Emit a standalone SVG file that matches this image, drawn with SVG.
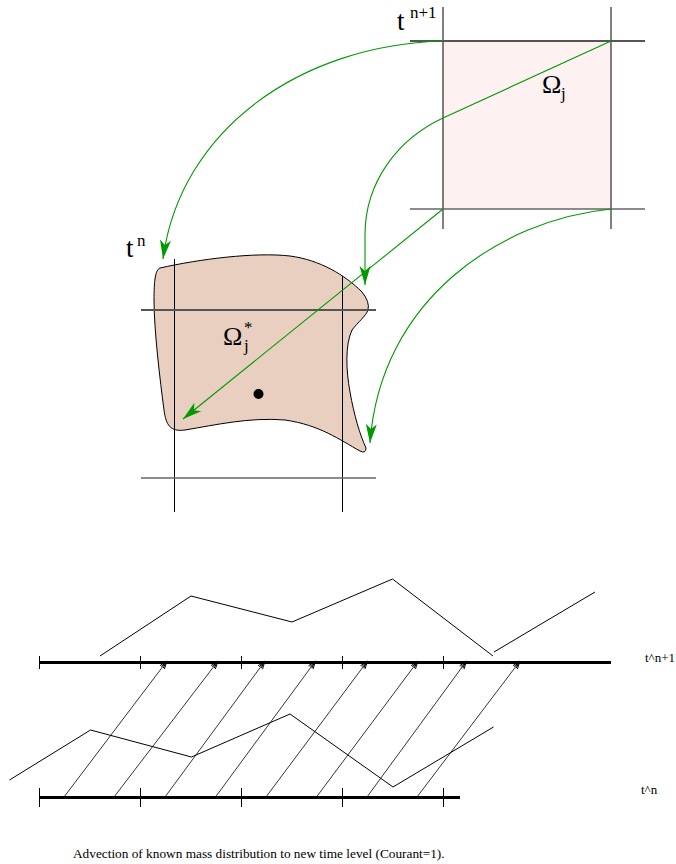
<svg xmlns="http://www.w3.org/2000/svg" width="676" height="864" viewBox="0 0 676 864">
<style>
.serif{font-family:"Liberation Serif","Times New Roman",serif;fill:#000}
.vgrid{stroke:#000;stroke-width:1;fill:none}
.hgrid{stroke:#555;stroke-width:2;fill:none}
.hgrid2{stroke:#666;stroke-width:1.5;fill:none}
.green{stroke:#009900;stroke-width:1.1;fill:none;marker-end:url(#garrow)}
.axis{stroke:#000;stroke-width:3;fill:none}
.tick{stroke:#000;stroke-width:1;fill:none}
.zig{stroke:#000;stroke-width:1;fill:none}
.adv{stroke:#000;stroke-width:0.8;fill:none;marker-end:url(#sarrow)}
</style>
<defs>
<marker id="garrow" markerUnits="userSpaceOnUse" orient="auto" markerWidth="24" markerHeight="14" viewBox="-20 -7 22 14" refX="0" refY="0">
<path d="M0,0 L-19,-5.5 L-14,0 L-19,5.5 Z" fill="#009900"/>
</marker>
<marker id="sarrow" markerUnits="userSpaceOnUse" orient="auto" markerWidth="12" markerHeight="10" viewBox="-10 -5 11 10" refX="0" refY="0">
<path d="M-8,-2.8 L0,0 L-8,2.8 M-8,-1.3 L-1.5,0 L-8,1.3" stroke="#000" stroke-width="0.9" fill="none"/>
</marker>
</defs>

<!-- Target cell Omega_j at t^{n+1} -->
<g id="cell-new">
<rect x="443" y="41" width="168" height="168" fill="#fdf1f1"/>
<line class="vgrid" x1="443" y1="7" x2="443" y2="229"/>
<line class="vgrid" x1="611" y1="7" x2="611" y2="229"/>
<line class="hgrid" x1="410" y1="41" x2="645" y2="41"/>
<line class="hgrid2" x1="410" y1="209" x2="645" y2="209"/>
<text class="serif" x="397" y="30" font-size="27">t</text>
<text class="serif" x="410" y="18" font-size="17">n+1</text>
<text class="serif" x="542" y="93" font-size="26">Ω</text>
<text class="serif" x="561" y="99" font-size="17">j</text>
</g>

<!-- Departure region Omega_j^* at t^n -->
<g id="cell-old">
<path d="M160,268 C200,259 255,252 290,256 C320,260 345,275 362,292 Q370,302 368,310 C366,316 358,322 352,330 C345,345 346,370 350,392 C354,415 360,435 366,448 Q366,454 360,451 C340,440 320,425 285,420 C250,417 215,425 185,430 C170,432 166,425 164,410 C160,380 154,330 154,300 C154,282 155,270 160,268 Z" fill="#e8cfc0" stroke="#000" stroke-width="1"/>
<line class="vgrid" x1="174.5" y1="259" x2="174.5" y2="512"/>
<line class="vgrid" x1="342.5" y1="276" x2="342.5" y2="512"/>
<line class="hgrid" x1="141" y1="310" x2="376" y2="310"/>
<line class="hgrid2" x1="141" y1="478" x2="376" y2="478"/>
<circle cx="258.5" cy="394" r="5" fill="#000"/>
<text class="serif" x="126" y="257" font-size="27">t</text>
<text class="serif" x="137" y="246" font-size="17">n</text>
<text class="serif" x="223" y="345" font-size="26">Ω</text>
<text class="serif" x="244" y="333" font-size="17">*</text>
<text class="serif" x="244" y="351" font-size="17">j</text>
</g>

<!-- Backward trajectories -->
<g id="connectors">
<path class="green" d="M443,41 C300,45 180,130 163,259"/>
<path class="green" d="M611,41 L443,118 C400,138 365,180 365,235 L365,285"/>
<path class="green" d="M443,209 L183,419"/>
<path class="green" d="M611,209 C500,220 380,300 370,443"/>
</g>

<!-- Lower 1D advection sketch -->
<g id="time-lines">
<line class="axis" x1="39" y1="662.5" x2="611" y2="662.5"/>
<line class="axis" x1="39" y1="797.5" x2="460" y2="797.5"/>
<path class="tick" d="M39.5,656 V669 M140.5,656 V669 M241.5,656 V669 M342.5,656 V669 M443.5,656 V669"/>
<path class="tick" d="M39.5,788 V807 M140.5,788 V807 M241.5,788 V807 M342.5,788 V807 M443.5,788 V807"/>
<text class="serif" x="645" y="662" font-size="13">t^n+1</text>
<text class="serif" x="641" y="794" font-size="13">t^n</text>
</g>

<g id="mass-new">
<polyline class="zig" points="100,656 191,596 292,622 392.5,579 493,656"/>
<polyline class="zig" points="494,652 595,592"/>
</g>

<g id="mass-old">
<polyline class="zig" points="9.5,780 90.5,730 191.5,757 290,714 393,787 493.5,727"/>
</g>

<g id="advection-arrows">
<line class="adv" x1="64" y1="797" x2="167" y2="661"/>
<line class="adv" x1="114" y1="797" x2="218" y2="661"/>
<line class="adv" x1="165" y1="797" x2="265" y2="661"/>
<line class="adv" x1="215.5" y1="797" x2="315.5" y2="661"/>
<line class="adv" x1="266" y1="797" x2="367.5" y2="661"/>
<line class="adv" x1="316.5" y1="797" x2="418" y2="661"/>
<line class="adv" x1="367" y1="797" x2="466.5" y2="661"/>
<line class="adv" x1="417" y1="797" x2="520" y2="661"/>
</g>

<text class="serif" x="73" y="858" font-size="13.3">Advection of known mass distribution to new time level (Courant=1).</text>
</svg>
